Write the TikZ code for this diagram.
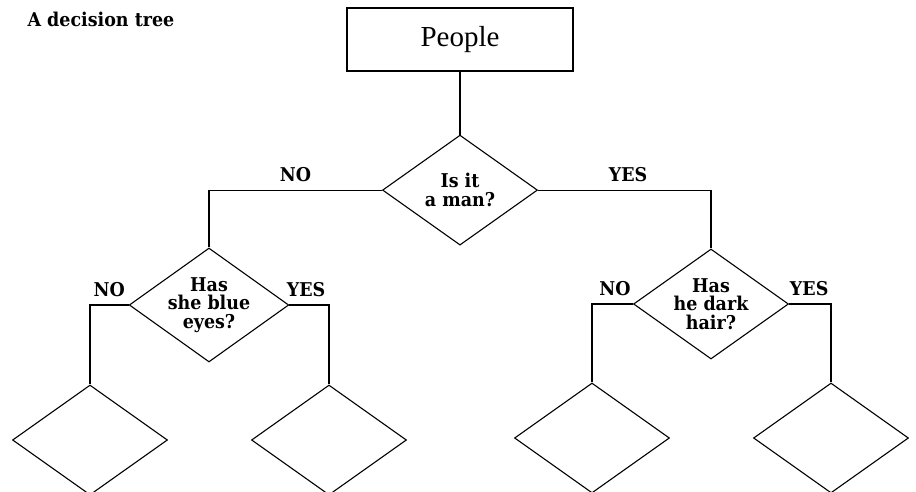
\documentclass[tikz,border=0pt]{standalone}
\usepackage{fontspec}
\newfontfamily\labelfont[FakeStretch=0.92]{DejaVu Serif}
\newfontfamily\startfont{Liberation Serif}
\usepackage{tikz}
\usetikzlibrary{shapes.geometric, positioning}

\begin{document}
\begin{tikzpicture}[
        x=1pt, y=-1pt,
        line width=1.1pt,
        % Define a uniform style for all question shapes
        question/.style={
            diamond,
            draw=black,
            aspect=1.4,
            minimum width=155pt,
            minimum height=110pt,
            inner sep=0pt,
            align=center,
            font=\labelfont\fontsize{19}{18.5}\selectfont\bfseries
        },
        start/.style={
            rectangle,
            draw=black,
            minimum width=226pt,
            minimum height=63pt,
            font=\startfont\fontsize{29}{32}\selectfont
        },
        answer/.style={
            above=8pt,
            inner sep=0pt,
            font=\labelfont\fontsize{19}{20}\selectfont\bfseries
        },
        branch/.style={
            line width=1.1pt
        }
    ]
    \useasboundingbox (0,0) rectangle (916,492);

    % Title
    \node (title) [anchor=base west, inner sep=0pt,
        font=\labelfont\fontsize{19}{20}\selectfont\bfseries] at (27,27) {A decision tree};

    % Draw the Nodes
    \node (people) [start] at (460,39.5) {\raisebox{3pt}{People}};
    \node (man) [question, below=63pt of people] {Is it\\ a man?};

    \node (blue) [question] at (209,305) {Has\\ she blue\\ eyes?};
    \node (hair) [question] at (711,304) {Has\\ he dark\\ hair?};

    \node (leafA) [question] at (90,440) {};
    \node (leafB) [question] at (329,440) {};
    \node (leafC) [question] at (592,438) {};
    \node (leafD) [question] at (831,438) {};

    % Draw the connecting lines
    \draw [branch] (people) -- (man);
    \draw [branch] (man.west) -| node [answer, pos=0.25] {NO} (blue.north);
    \draw [branch] (man.east) -| node [answer, pos=0.26] {YES} (hair.north);
    \draw [branch] (blue.west) -| node [answer, pos=0.25] {NO} (leafA.north);
    \draw [branch] (blue.east) -| node [answer, pos=0.21] {YES} (leafB.north);
    \draw [branch] (hair.west) -| node [answer, pos=0.22] {NO} (leafC.north);
    \draw [branch] (hair.east) -| node [answer, pos=0.24] {YES} (leafD.north);

\end{tikzpicture}
\end{document}
